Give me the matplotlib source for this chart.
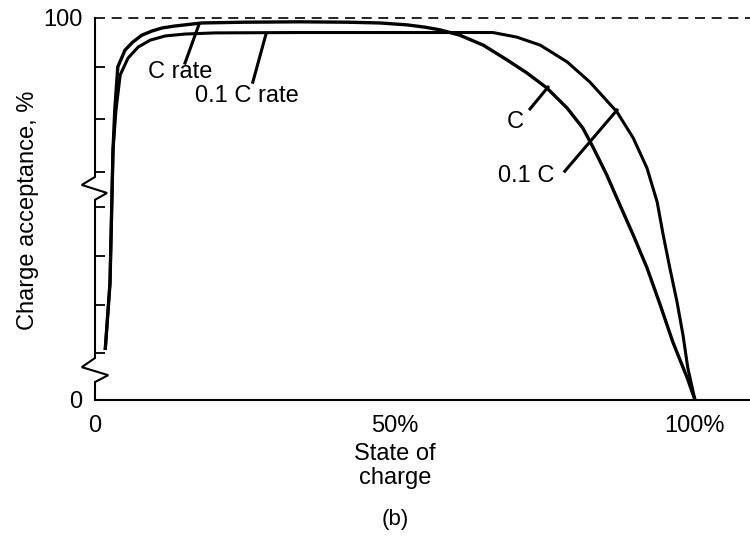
import matplotlib.pyplot as plt
import matplotlib.transforms as mtransforms

plt.rcParams['font.family'] = ['Liberation Sans', 'DejaVu Sans']

# Charge acceptance curves (state of charge %, acceptance %)
c_soc = [1.7, 2.5, 3.0, 3.3, 3.8, 5.0, 6.3, 7.8, 9.5, 11.2, 13.3, 15.0, 17.8,
         25.0, 34.2, 42.0, 47.5, 52.0, 55.0, 57.5, 60.8, 64.7, 68.7, 72.0,
         75.3, 78.7, 81.3, 83.0, 85.3, 87.5, 89.7, 92.0, 94.2, 96.3, 98.7, 100.0]
c_acc = [13.1, 30.6, 65.4, 76.0, 87.2, 91.6, 93.7, 95.5, 96.6, 97.4, 97.9, 98.2, 98.7,
         98.9, 99.0, 98.9, 98.7, 98.2, 97.6, 96.9, 95.5, 92.9, 89.0, 85.6,
         81.7, 76.4, 71.2, 66.2, 58.9, 51.0, 43.2, 34.6, 24.9, 15.2, 5.8, 0.0]

tenth_soc = [1.7, 2.5, 3.0, 3.5, 4.2, 5.5, 7.2, 9.2, 11.7, 15.0, 20.0, 34.2, 50.0,
             60.0, 66.3, 70.3, 74.2, 78.7, 82.5, 87.0, 89.7, 92.0, 93.7, 94.7,
             95.8, 97.0, 98.0, 98.8, 100.0]
tenth_acc = [13.1, 30.6, 65.4, 75.9, 85.1, 89.5, 92.4, 94.2, 95.3, 95.8, 96.1, 96.2, 96.2,
             96.2, 96.2, 95.0, 92.9, 88.5, 83.2, 75.4, 68.6, 60.7, 51.8, 43.2,
             34.6, 25.7, 17.0, 8.4, 0.0]

# left axis drawn by hand with two break marks
spine_x = [0, 0, -2.2, 2.0, 0, 0, -2.2, 2.2, 0, 0]
spine_y = [100, 58.4, 56.3, 54.2, 52.4, 11.0, 8.6, 6.5, 4.7, 0]
inner_yticks = [12.3, 24.9, 37.7, 50.5, 59.7, 73.6, 87.2]

labels = [
    # text, text xy, leader start, leader end
    ("C rate", (14.2, 85.9), (15.0, 88.2), (17.3, 98.2)),
    ("0.1 C rate", (25.3, 79.6), (26.3, 83.2), (28.5, 95.8)),
    ("C", (70.0, 72.8), (72.5, 76.2), (75.5, 81.9)),
    ("0.1 C", (71.8, 58.6), (78.3, 59.9), (87.0, 75.9)),
]

FS = 17

fig = plt.figure(figsize=(7.5, 5.39), dpi=100)
ax = fig.add_axes([95 / 750, 1 - 400 / 539, 655 / 750, 382 / 539])
ax.set_xlim(0, 655 / 6)
ax.set_ylim(0, 100)

for s in ("top", "right", "left"):
    ax.spines[s].set_visible(False)
ax.spines["bottom"].set_linewidth(1.5)

ax.plot(spine_x, spine_y, color="black", lw=1.5, clip_on=False,
        solid_joinstyle="miter")
ax.axhline(100, color="black", lw=1.2, ls=(0, (6, 4)), clip_on=False)

ax.plot(c_soc, c_acc, color="black", lw=2.4, clip_on=False,
        solid_capstyle="butt", solid_joinstyle="round")
ax.plot(tenth_soc, tenth_acc, color="black", lw=2.2, clip_on=False,
        solid_capstyle="butt", solid_joinstyle="round")

for text, txy, p0, p1 in labels:
    ax.plot([p0[0], p1[0]], [p0[1], p1[1]], color="black", lw=2.2)
    ax.text(txy[0], txy[1], text, fontsize=FS, ha="center", va="center")

ax.set_yticks([0, 100])
ax.set_yticklabels(["0", "100"], fontsize=FS)
ax.set_yticks(inner_yticks, minor=True)
ax.tick_params(axis="y", which="major", length=0, pad=9)
ax.tick_params(axis="y", which="minor", direction="in", length=7.5, width=1.3)

ax.set_xticks([0, 50, 100])
ax.set_xticklabels(["0", "50%", "100%"], fontsize=FS)
ax.set_xticks([50], minor=True)
ax.tick_params(axis="x", which="major", length=0, pad=11)
ax.tick_params(axis="x", which="minor", direction="in", length=11, width=1.3)

trans = mtransforms.blended_transform_factory(ax.transData, fig.transFigure)
ax.text(50, 1 - 466 / 539, "State of\ncharge", fontsize=FS, ha="center",
        va="center", linespacing=1.15, transform=trans)
ax.text(50, 1 - 520 / 539, "(b)", fontsize=FS - 1, ha="center", va="center",
        transform=trans)
fig.text(28 / 750, 1 - 210 / 539, "Charge acceptance, %", fontsize=FS,
         rotation=90, ha="center", va="center")

fig.savefig("out.png", dpi=100)
